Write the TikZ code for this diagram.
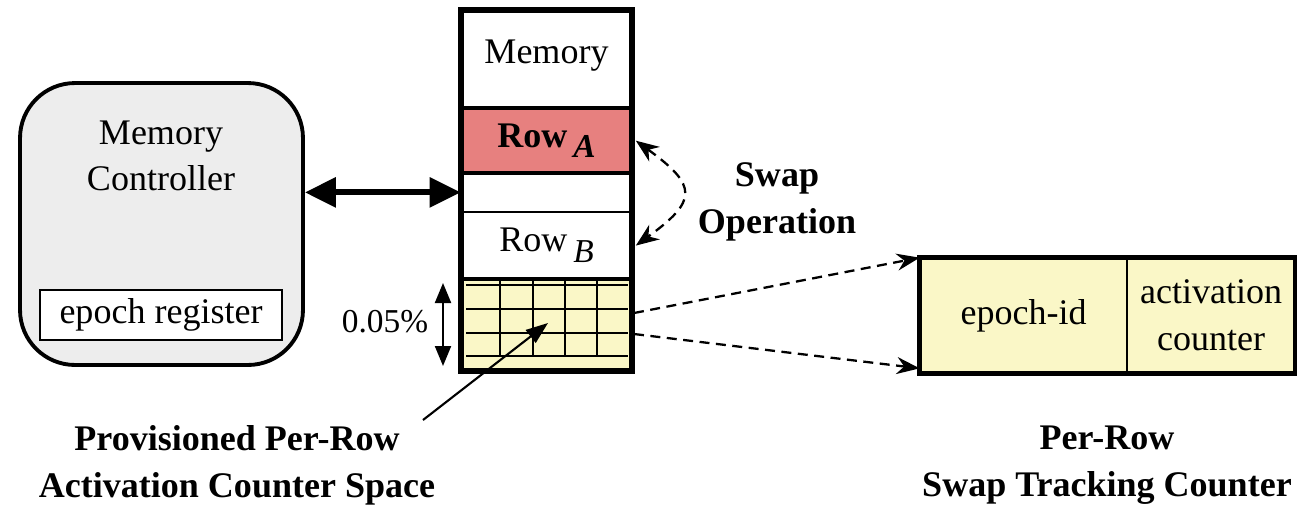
\documentclass[tikz,border=0pt]{standalone}
\usepackage{fontspec}
\setmainfont{Liberation Serif}
\usetikzlibrary{arrows.meta,positioning,calc}

\definecolor{rowred}{RGB}{231,128,127}
\definecolor{celly}{RGB}{250,247,199}
\definecolor{ctrlgray}{RGB}{237,237,237}

\begin{document}
\begin{tikzpicture}[
    x=0.02cm, y=-0.02cm,
    txt/.style={font=\fontsize{20.5}{26.6}\selectfont},
    bold/.style={font=\fontsize{20.5}{26.6}\selectfont\bfseries},
    small/.style={font=\fontsize{19}{22}\selectfont},
    cell/.style={rectangle, minimum width=3.42cm, inner sep=0pt, txt},
    fatline/.style={line width=2.3pt},
    thinline/.style={line width=1.1pt},
    bigarrow/.style={{Triangle[length=0.62cm,width=0.58cm]}-{Triangle[length=0.62cm,width=0.58cm]}, line width=3.4pt},
    dasharrow/.style={-{Stealth[length=0.46cm,width=0.34cm]}, line width=1.3pt, dash pattern=on 0.2cm off 0.13cm},
    swaparrow/.style={{Stealth[length=0.46cm,width=0.36cm]}-{Stealth[length=0.46cm,width=0.36cm]}, line width=1.3pt, dash pattern=on 0.2cm off 0.13cm},
    pctarrow/.style={{Triangle[length=0.4cm,width=0.32cm]}-{Triangle[length=0.4cm,width=0.32cm]}, line width=1.2pt},
    ptr/.style={-{Triangle[length=0.44cm,width=0.32cm]}, line width=1.2pt},
]

\useasboundingbox (0,0) rectangle (1304,505);

% Memory controller
\node[draw, line width=2.2pt, rounded corners=1.1cm, fill=ctrlgray, minimum width=5.66cm, minimum height=5.64cm] (ctrl) at (161.5,224) {};
\node[txt, align=center] (ctrlname) at (161,156) {Memory\\Controller};
\node[draw, thinline, fill=white, minimum width=4.84cm, minimum height=1cm, inner sep=0pt, txt] (epochreg) at (161,315) {epoch register};

% Memory column
\node[cell, minimum height=1.96cm, text depth=0.3cm] (mem) at (546.5,59) {Memory};
\node[cell, minimum height=1.28cm, fill=rowred, below=0cm of mem] (rowA) {\textbf{Row}\,\raisebox{-0.3em}{\fontsize{19}{19}\selectfont\bfseries\itshape A}};
\node[cell, minimum height=0.76cm, below=0cm of rowA] (gap) {};
\node[cell, minimum height=1.34cm, below=0cm of gap] (rowB) {Row\,\raisebox{-0.3em}{\fontsize{19}{19}\selectfont\itshape B}};
\node[cell, minimum height=1.82cm, fill=celly, below=0cm of rowB] (cnt) {};

% counter grid
\foreach \gy in {285,309,333,356}
    \draw[thinline] (466,\gy) -- (628,\gy);
\foreach \gx in {500,533,565,597}
    \draw[thinline] (\gx,278) -- (\gx,357);

\draw[fatline] (mem.south west) -- (mem.south east);
\draw[fatline] (rowA.south west) -- (rowA.south east);
\draw[thinline] (gap.south west) -- (gap.south east);
\draw[fatline] (rowB.south west) -- (rowB.south east);
\draw[line width=3.4pt] (mem.north west) rectangle (cnt.south east);

% Swap tracking counter
\node[txt, fill=celly, minimum width=4.14cm, minimum height=2.3cm, inner sep=0pt] (epochid) at (1023.5,315.5) {epoch-id};
\node[txt, fill=celly, align=center, minimum width=3.34cm, minimum height=2.3cm, inner sep=0pt, right=0cm of epochid] (actcnt) {activation\\counter};
\draw[thinline] (epochid.north east) -- (epochid.south east);
\draw[line width=2.6pt] (epochid.north west) rectangle (actcnt.south east);

% Connectors
\draw[bigarrow] (ctrl.east |- gap.west) -- (gap.west);
\draw[swaparrow] ([xshift=2pt]rowA.east) .. controls +(62,45) and +(62,-45) .. ([xshift=2pt]rowB.east);

\coordinate (cntA) at (634,313);
\coordinate (cntB) at (634,334);
\draw[dasharrow] (cntA) -- (epochid.north west);
\draw[dasharrow] (cntB) -- ([yshift=0.1cm]epochid.south west);

\node[small] (pct) at (385,322) {0.05\%};
\coordinate (pctTop) at (443,283);
\coordinate (pctBot) at (443,366);
\draw[pctarrow] (pctTop) -- (pctBot);

% Labels
\node[bold, align=center] (swaplbl) at (777,202) {Swap\\Operation};
\node[bold, align=center] (provlbl) at (237,465) {Provisioned Per-Row\\Activation Counter Space};
\node[bold, align=center] (tracklbl) at (1107,465) {Per-Row\\Swap Tracking Counter};

\coordinate (ptrTail) at (423,420);
\coordinate (ptrTip) at (548,323);
\draw[ptr] (ptrTail) -- (ptrTip);

\end{tikzpicture}
\end{document}
